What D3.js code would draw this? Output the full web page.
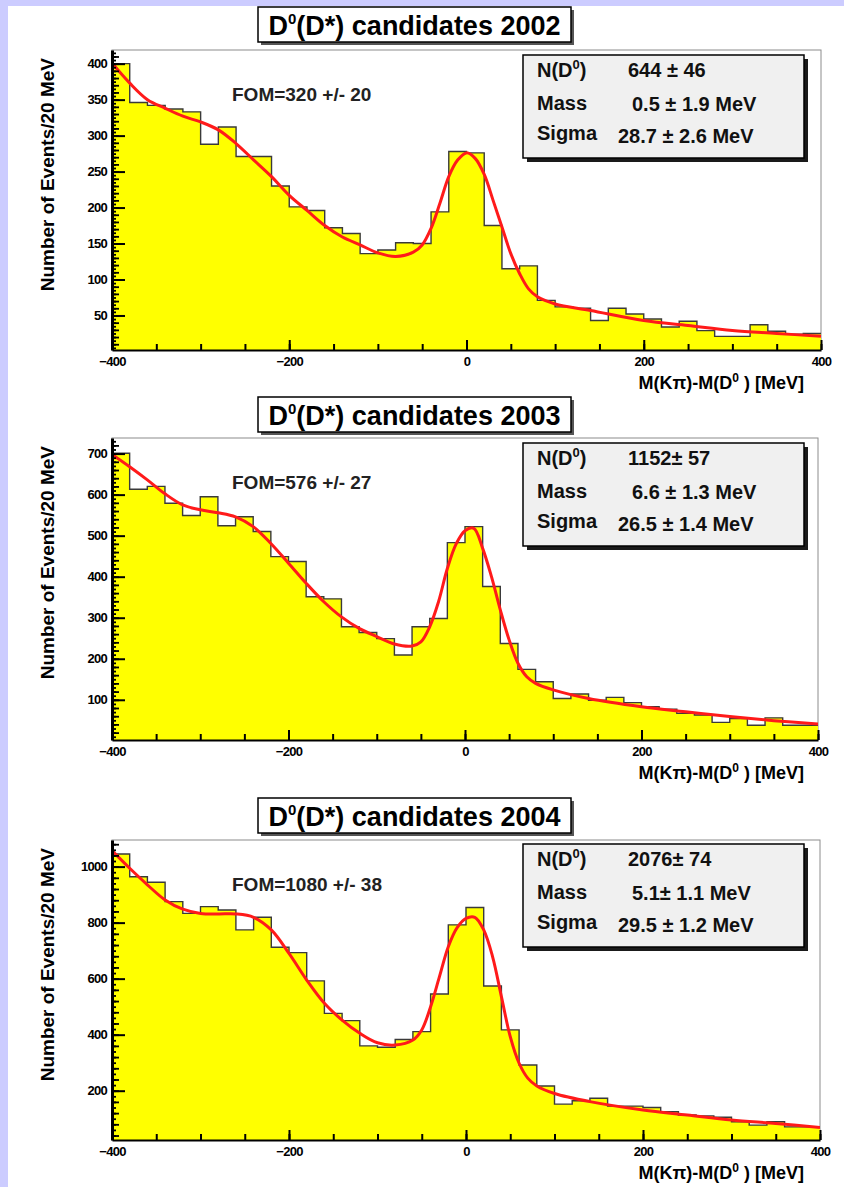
<!DOCTYPE html>
<html>
<head>
<meta charset="utf-8">
<script src="https://cdn.jsdelivr.net/npm/d3@7"></script>
<style>
  html, body { margin: 0; padding: 0; background: #ffffff; }
  svg { display: block; }
  text { font-family: "Liberation Sans", Arial, Helvetica, sans-serif; }
</style>
</head>
<body>
<svg id="chart" width="844" height="1187"></svg>
<script>
// ---------------- DATA ----------------
const binLows = [-400,-380,-360,-340,-320,-300,-280,-260,-240,-220,-200,-180,-160,-140,-120,-100,-80,-60,-40,-20,
                 0,20,40,60,80,100,120,140,160,180,200,220,240,260,280,300,320,340,360,380];
const binWidth = 20;

const counts2002 = [400,346,342,337,333,288,312,271,271,230,201,196,172,164,136,141,151,150,194,278,
                    276,175,115,119,71,62,60,43,60,52,45,34,42,29,21,21,37,28,24,25];
const counts2003 = [701,613,620,579,549,595,524,546,510,449,437,351,346,278,264,249,209,278,298,483,
                    522,376,237,174,144,103,114,99,106,93,83,77,67,63,45,54,38,56,38,38];
const counts2004 = [1045,964,944,875,833,857,845,774,819,712,693,592,476,450,360,355,383,411,545,792,
                    854,574,417,292,217,152,164,173,145,145,140,125,113,110,105,89,77,89,71,71];

const fitX = [-400,-380,-360,-340,-320,-300,-280,-260,-240,-220,-200,-180,-160,-140,-120,-100,-80,-60,-50,-40,-30,-20,-10,
              0,10,20,30,40,50,60,70,80,100,140,200,250,300,350,400];
const fit2002 = [401,373,350,338,327,319,308,289,266,243,217,196,175,159,148,137,132,138,148,171,206,243,266,
                 276,268,246,210,173,136,108,87,76,66,57,43,36,29,25,21];
const fit2003 = [698,668,636,602,575,563,556,546,522,481,433,384,339,302,274,254,236,231,241,278,339,420,480,
                 512,518,469,400,319,246,189,156,140,124,103,83,71,59,49,41];
const fit2004 = [1057,994,935,881,848,833,831,831,819,774,690,595,512,452,405,371,363,381,417,500,607,714,782,
                 815,819,774,679,536,393,298,244,217,190,161,131,113,95,83,69];

const years = ["2002","2003","2004"];
const foms = ["FOM=320 +/- 20","FOM=576 +/- 27","FOM=1080 +/- 38"];
const nD0 = ["644 \u00b1 46","1152\u00b1 57","2076\u00b1 74"];
const massVals = ["0.5 \u00b1 1.9 MeV","6.6 \u00b1 1.3 MeV","5.1\u00b1 1.1 MeV"];
const sigmaVals = ["28.7 \u00b1 2.6 MeV","26.5 \u00b1 1.4 MeV","29.5 \u00b1 1.2 MeV"];
const xTickLabels = [-400,-200,0,200,400];
const yMajorTicks = [[50,100,150,200,250,300,350,400],[100,200,300,400,500,600,700],[200,400,600,800,1000]];

// ---------------- LAYOUT ----------------
const panels = [
  {counts: counts2002, fit: fit2002, dom: [2,419],  minorStep: 10, left:112, right:821, top:50,  bottom:350, titleY:7,   statTop:55},
  {counts: counts2003, fit: fit2003, dom: [2,738],  minorStep: 20, left:112, right:818, top:438, bottom:740, titleY:397, statTop:443},
  {counts: counts2004, fit: fit2004, dom: [24,1095],minorStep: 40, left:112, right:820, top:840, bottom:1140,titleY:798, statTop:844}
];

const svg = d3.select("#chart");
svg.append("rect").attr("x",0).attr("y",0).attr("width",844).attr("height",1187).attr("fill","#ffffff");
svg.append("rect").attr("x",0).attr("y",0).attr("width",844).attr("height",6).attr("fill","#ccccff");
svg.append("rect").attr("x",0).attr("y",0).attr("width",8).attr("height",1187).attr("fill","#ccccff");

panels.forEach((p, i) => {
  const g = svg.append("g");
  const x = d3.scaleLinear().domain([-400,400]).range([p.left, p.right]);
  const y = d3.scaleLinear().domain(p.dom).range([p.bottom, p.top]);

  const clipId = "clip" + i;
  svg.append("clipPath").attr("id", clipId).append("rect")
    .attr("x", p.left).attr("y", p.top).attr("width", p.right - p.left).attr("height", p.bottom - p.top);

  // frame (grey)
  g.append("rect").attr("x", p.left).attr("y", p.top).attr("width", p.right - p.left).attr("height", p.bottom - p.top)
    .attr("fill", "#ffffff").attr("stroke", "#8c8c8c").attr("stroke-width", 1);

  // histogram
  const pts = binLows.map((b, k) => [b, p.counts[k]]);
  pts.push([binLows[binLows.length-1] + binWidth, p.counts[p.counts.length-1]]);
  const area = d3.area().curve(d3.curveStepAfter)
    .x(d => x(d[0])).y0(y(p.dom[0])).y1(d => y(d[1]));
  g.append("path").attr("d", area(pts)).attr("fill", "#ffff00").attr("clip-path", `url(#${clipId})`);
  const line = d3.line().curve(d3.curveStepAfter).x(d => x(d[0])).y(d => y(d[1]));
  g.append("path").attr("d", line(pts)).attr("fill", "none").attr("stroke", "#3a3a3a").attr("stroke-width", 1.4)
    .attr("clip-path", `url(#${clipId})`);

  // fit curve
  const fitLine = d3.line().curve(d3.curveCatmullRom.alpha(0.5)).x((d, k) => x(fitX[k])).y(d => y(d));
  g.append("path").attr("d", fitLine(p.fit)).attr("fill", "none").attr("stroke", "#ff1a1a").attr("stroke-width", 3)
    .attr("clip-path", `url(#${clipId})`);

  // x axis
  const xMinor = d3.range(-400, 401, 50);
  g.append("g").attr("transform", `translate(0,${p.bottom})`)
    .call(d3.axisBottom(x).tickValues(xMinor).tickSize(-6).tickSizeOuter(0).tickFormat(""))
    .call(a => a.select(".domain").remove())
    .call(a => a.selectAll("line").attr("stroke", "#000").attr("stroke-width", 2));
  const xa = g.append("g").attr("transform", `translate(0,${p.bottom})`)
    .call(d3.axisBottom(x).tickValues(xTickLabels).tickSize(-10).tickSizeOuter(0).tickPadding(16).tickFormat(d3.format("d")));
  xa.select(".domain").attr("stroke", "#000").attr("stroke-width", 2.2);
  xa.selectAll("line").attr("stroke", "#000").attr("stroke-width", 2);
  xa.selectAll("text").attr("font-size", 13).attr("font-weight", "bold").attr("fill", "#000")
    .attr("font-family", "Liberation Sans, Arial, sans-serif").attr("dy", "0em").attr("letter-spacing", -0.7);

  // y axis
  const majors = yMajorTicks[i];
  const ms = p.minorStep;
  const yMinor = d3.range(Math.ceil(p.dom[0]/ms)*ms, p.dom[1], ms);
  const yHalf = d3.range(Math.ceil(p.dom[0]/(ms/2))*(ms/2), p.dom[1], ms/2);
  g.append("g").attr("transform", `translate(${p.left},0)`)
    .call(d3.axisLeft(y).tickValues(yHalf).tickSize(-4).tickSizeOuter(0).tickFormat(""))
    .call(a => a.select(".domain").remove())
    .call(a => a.selectAll("line").attr("stroke", "#000").attr("stroke-width", 1.8));
  g.append("g").attr("transform", `translate(${p.left},0)`)
    .call(d3.axisLeft(y).tickValues(yMinor).tickSize(-7).tickSizeOuter(0).tickFormat(""))
    .call(a => a.select(".domain").remove())
    .call(a => a.selectAll("line").attr("stroke", "#000").attr("stroke-width", 1.8));
  const ya = g.append("g").attr("transform", `translate(${p.left},0)`)
    .call(d3.axisLeft(y).tickValues(majors).tickSize(-13).tickSizeOuter(0).tickPadding(5).tickFormat(d3.format("d")));
  ya.select(".domain").attr("stroke", "#000").attr("stroke-width", 3);
  ya.selectAll("line").attr("stroke", "#000").attr("stroke-width", 2);
  ya.selectAll("text").attr("font-size", 13).attr("font-weight", "bold").attr("fill", "#000")
    .attr("font-family", "Liberation Sans, Arial, sans-serif").attr("letter-spacing", -0.7);

  // y label
  g.append("text")
    .attr("transform", `translate(54,${p.top + 8}) rotate(-90)`)
    .attr("text-anchor", "end").attr("font-size", 19).attr("font-weight", "bold").attr("fill", "#000")
    .text("Number of Events/20 MeV");

  // x label
  const xl = g.append("text").attr("x", 804).attr("y", p.bottom + 39).attr("text-anchor", "end")
    .attr("font-size", 18).attr("font-weight", "bold").attr("fill", "#000");
  xl.append("tspan").text("M(K\u03c0)-M(D");
  xl.append("tspan").attr("font-size", 12).attr("dy", -7).text("0");
  xl.append("tspan").attr("dy", 7).text(" ) [MeV]");

  // FOM
  g.append("text").attr("x", 232).attr("y", p.top + 51).attr("font-size", 19).attr("font-weight", "bold")
    .attr("fill", "#222").text(foms[i]);

  // title box
  const tb = {x: 258, y: p.titleY, w: 313, h: 35};
  g.append("rect").attr("x", tb.x + 3).attr("y", tb.y + 3).attr("width", tb.w).attr("height", tb.h).attr("fill", "#555");
  g.append("rect").attr("x", tb.x).attr("y", tb.y).attr("width", tb.w).attr("height", tb.h)
    .attr("fill", "#ffffff").attr("stroke", "#000").attr("stroke-width", 1.5);
  const tt = g.append("text").attr("x", tb.x + tb.w/2).attr("y", tb.y + 28).attr("text-anchor", "middle")
    .attr("font-size", 27).attr("font-weight", "bold").attr("fill", "#000");
  tt.append("tspan").text("D");
  tt.append("tspan").attr("font-size", 15).attr("dy", -11).text("0");
  tt.append("tspan").attr("dy", 11).text("(D*) candidates " + years[i]);

  // stats box
  const sb = {x: 523, y: p.statTop, w: 281, h: 103};
  g.append("rect").attr("x", sb.x + 4).attr("y", sb.y + 4).attr("width", sb.w).attr("height", sb.h).attr("fill", "#1a1a1a");
  g.append("rect").attr("x", sb.x).attr("y", sb.y).attr("width", sb.w).attr("height", sb.h)
    .attr("fill", "#f0f0f0").attr("stroke", "#000").attr("stroke-width", 1.5);
  const fs = 20;
  const n = g.append("text").attr("x", sb.x + 14).attr("y", sb.y + 22).attr("font-size", fs).attr("font-weight", "bold").attr("fill", "#111");
  n.append("tspan").text("N(D");
  n.append("tspan").attr("font-size", 13).attr("dy", -8).text("0");
  n.append("tspan").attr("dy", 8).text(")");
  g.append("text").attr("x", sb.x + 105).attr("y", sb.y + 22).attr("font-size", fs).attr("font-weight", "bold").attr("fill", "#111").text(nD0[i]);
  g.append("text").attr("x", sb.x + 14).attr("y", sb.y + 55).attr("font-size", fs).attr("font-weight", "bold").attr("fill", "#111").text("Mass");
  g.append("text").attr("x", sb.x + 109).attr("y", sb.y + 56).attr("font-size", fs).attr("font-weight", "bold").attr("fill", "#111").text(massVals[i]);
  g.append("text").attr("x", sb.x + 14).attr("y", sb.y + 85).attr("font-size", fs).attr("font-weight", "bold").attr("fill", "#111").text("Sigma");
  g.append("text").attr("x", sb.x + 95).attr("y", sb.y + 88).attr("font-size", fs).attr("font-weight", "bold").attr("fill", "#111").text(sigmaVals[i]);
});
</script>
</body>
</html>
